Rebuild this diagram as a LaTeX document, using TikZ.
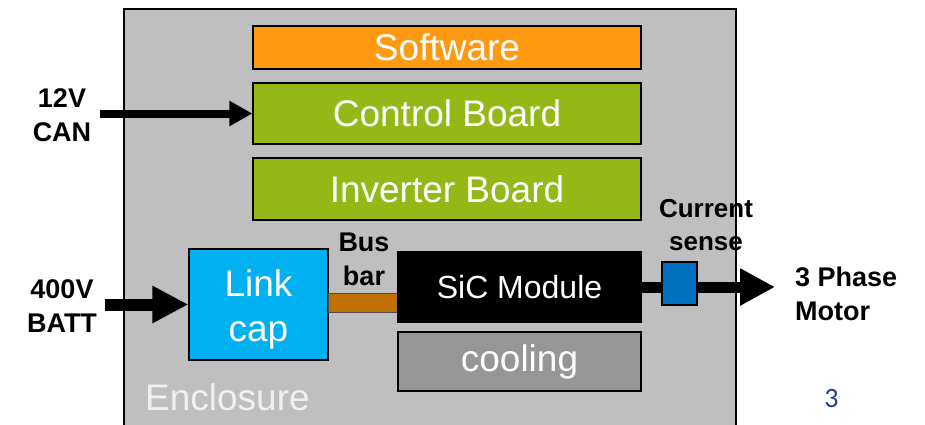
\documentclass[tikz,border=0pt]{standalone}
\usepackage{fontspec}
\setmainfont{Liberation Sans}
\newfontfamily\pagefont{Carlito}
\usetikzlibrary{arrows.meta}
\definecolor{encl}{RGB}{191,191,191}
\definecolor{enclText}{RGB}{240,240,240}
\definecolor{swOrange}{RGB}{255,153,16}
\definecolor{boardGreen}{RGB}{149,184,22}
\definecolor{capCyan}{RGB}{0,176,240}
\definecolor{busBrown}{RGB}{192,112,0}
\definecolor{coolGray}{RGB}{150,150,150}
\definecolor{senseBlue}{RGB}{0,112,192}
\definecolor{pageBlue}{RGB}{40,60,150}
\begin{document}
\begin{tikzpicture}[x=1pt,y=-1pt,
  box/.style={draw=black,line width=1.3pt,inner sep=0pt,text=white,font=\fontsize{37}{45}\selectfont,align=center},
  boxtext/.style={inner sep=0pt,text=white,font=\fontsize{37}{45}\selectfont,align=center},
  lbl/.style={align=center,inner sep=0pt,font=\fontsize{27}{34}\selectfont\bfseries},
  smalllbl/.style={align=center,inner sep=0pt,font=\fontsize{26}{33}\selectfont\bfseries},
]
\useasboundingbox (0,0) rectangle (925,424);
% enclosure
\fill[encl] (124,9) rectangle (736,430);
\draw[line width=1.3pt] (124,430) -- (124,9) -- (736,9) -- (736,430);
\node[anchor=base west,inner sep=0pt,text=enclText,font=\fontsize{37}{44}\selectfont] (enclosure) at (145,410) {Enclosure};
% boxes
\node[box,fill=swOrange,minimum width=388pt,minimum height=43pt] (software) at (447,47.5) {Software};
\node[box,fill=boardGreen,minimum width=388pt,minimum height=61pt] (control) at (447,113.5) {Control Board};
\node[box,fill=boardGreen,minimum width=388pt,minimum height=62pt] (inverter) at (447,189) {Inverter Board};
\node[box,fill=capCyan,minimum width=139pt,minimum height=111pt] (linkcap) at (258.5,304.5) {};
\node[boxtext] (linkcaptext) at (258.5,309) {Link\\cap};
\node[draw=black!70,line width=0.8pt,fill=busBrown,inner sep=0pt,minimum width=70pt,minimum height=19pt] (busbar) at (363,302.5) {};
\node[box,fill=black,minimum width=243pt,minimum height=70pt,font=\fontsize{32}{34}\selectfont] (sic) at (519.5,287) {SiC Module};
\node[box,fill=coolGray,minimum width=243pt,minimum height=59pt] (cooling) at (519.5,361.5) {cooling};
% arrows
\coordinate (canin) at (100,113.5);
\coordinate (battin) at (105,304.5);
\coordinate (motor) at (775,287);
\draw[line width=8pt,-{Triangle[length=23pt,width=24pt]}] (canin) -- (control.west);
\draw[line width=12pt,-{Triangle[length=36pt,width=35pt]}] (battin) -- (linkcap.west);
\draw[line width=11pt,-{Triangle[length=35pt,width=35pt]}] (sic.east) -- (motor);
\node[draw=black,line width=1.3pt,fill=senseBlue,inner sep=0pt,minimum width=35pt,minimum height=43pt] (sense) at (679.5,283.5) {};
% labels
\node[lbl] (canlbl) at (62,115) {12V\\CAN};
\node[lbl] (battlbl) at (62,306) {400V\\BATT};
\node[lbl] (buslbl) at (364,259) {Bus\\bar};
\node[smalllbl] (senselbl) at (706,225) {Current\\sense};
\node[lbl,align=left,anchor=west] (motorlbl) at (795,293.4) {3 Phase\\Motor};
\node[anchor=base,inner sep=0pt,text=pageBlue,font=\pagefont\fontsize{28}{32}\selectfont] (pagenum) at (831.5,407.5) {3};
\end{tikzpicture}
\end{document}
